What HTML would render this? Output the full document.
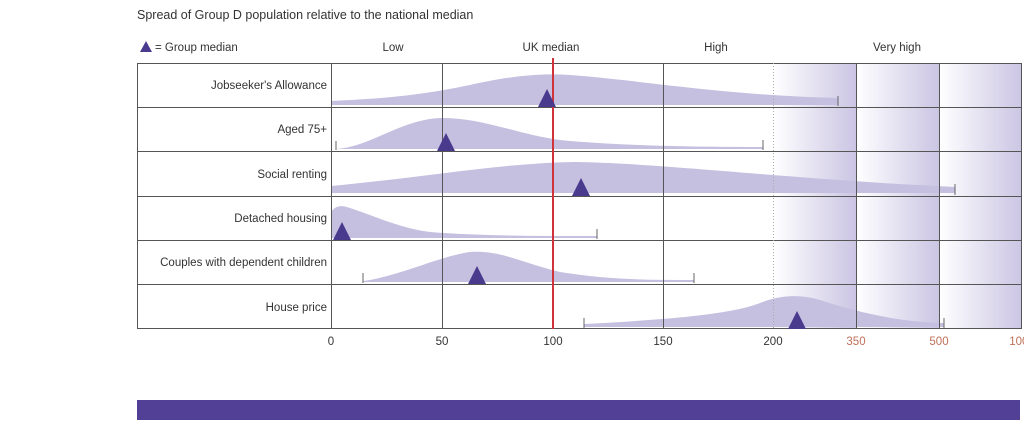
<!DOCTYPE html>
<html><head><meta charset="utf-8"><style>
body{margin:0;background:#fff;width:1024px;height:420px;overflow:hidden;font-family:"Liberation Sans",sans-serif}
</style></head><body>
<svg width="1024" height="420" xmlns="http://www.w3.org/2000/svg" font-family="Liberation Sans, sans-serif">
<defs>
<linearGradient id="g" x1="0" x2="1" y1="0" y2="0"><stop offset="0" stop-color="#fff"/><stop offset="1" stop-color="#cbc5e3"/></linearGradient>
</defs>
<text x="137" y="19" font-size="12.5" fill="#333">Spread of Group D population relative to the national median</text>
<polygon points="140,52 146,41 152,52" fill="#4a3a8e"/>
<text x="155" y="51" font-size="11.5" fill="#333">= Group median</text>
<g font-size="11.5" fill="#333" text-anchor="middle">
<text x="393" y="51">Low</text><text x="551" y="51">UK median</text><text x="716" y="51">High</text><text x="897" y="51">Very high</text>
</g>
<rect x="773" y="63" width="83" height="266" fill="url(#g)"/>
<rect x="856" y="63" width="83" height="266" fill="url(#g)"/>
<rect x="939" y="63" width="83" height="266" fill="url(#g)"/>
<g fill="#c5bfe0" stroke="none">
<path d="M331,105 L331,101 C400,98 430,93 470,85 C510,76 540,73 570,75 C640,80 720,95 838,98 L838,105 Z"/>
<path d="M336,149 C370,147 400,120 440,118 C480,117 520,135 560,140 C620,146 700,147 763,147 L763,149 Z"/>
<path d="M331,193 L331,186 C420,178 500,163 575,162 C660,163 800,180 955,187 L955,193 Z"/>
<path d="M331,238 L331,212 C336,205 342,205 350,208 C380,218 400,228 430,232 C480,236 540,236 597,236 L597,238 Z"/>
<path d="M363,282 L363,281 C400,276 440,256 470,252 C500,250 520,262 560,272 C610,280 650,280 694,280 L694,282 Z"/>
<path d="M584,327 L584,324 C660,320 730,315 760,303 C780,295 800,294 820,300 C860,313 900,322 944,323 L944,327 Z"/>
</g>
<g stroke="#666" stroke-width="1">
<line x1="838" y1="96" x2="838" y2="106"/><line x1="336" y1="141" x2="336" y2="150"/><line x1="763" y1="140" x2="763" y2="150"/>
<line x1="955" y1="184" x2="955" y2="195"/><line x1="597" y1="229" x2="597" y2="239"/><line x1="363" y1="273" x2="363" y2="283"/>
<line x1="694" y1="273" x2="694" y2="283"/><line x1="584" y1="318" x2="584" y2="328"/><line x1="944" y1="318" x2="944" y2="328"/>
</g>
<g stroke="#555" stroke-width="1" fill="none">
<rect x="137.5" y="63.5" width="884" height="265"/>
<line x1="137" y1="107.5" x2="1022" y2="107.5"/><line x1="137" y1="151.5" x2="1022" y2="151.5"/>
<line x1="137" y1="196.5" x2="1022" y2="196.5"/><line x1="137" y1="240.5" x2="1022" y2="240.5"/>
<line x1="137" y1="284.5" x2="1022" y2="284.5"/>
<line x1="331.5" y1="63" x2="331.5" y2="329"/><line x1="442.5" y1="63" x2="442.5" y2="329"/>
<line x1="663.5" y1="63" x2="663.5" y2="329"/>
<line x1="856.5" y1="63" x2="856.5" y2="329"/><line x1="939.5" y1="63" x2="939.5" y2="329"/>
<line x1="773.5" y1="63" x2="773.5" y2="329" stroke="#aaa" stroke-dasharray="1,2"/>
</g>
<line x1="553" y1="58" x2="553" y2="329" stroke="#d0343a" stroke-width="2"/>
<g fill="#4a3a8e">
<polygon points="538,107 547,89 556,107"/><polygon points="437,151 446,133 455,151"/>
<polygon points="572,196 581,178 590,196"/><polygon points="333,240 342,222 351,240"/>
<polygon points="468,284 477,266 486,284"/><polygon points="788,329 797,311 806,329"/>
</g>
<g font-size="11.5" fill="#333" text-anchor="end">
<text x="327" y="89">Jobseeker's Allowance</text><text x="327" y="133">Aged 75+</text>
<text x="327" y="178">Social renting</text><text x="327" y="222">Detached housing</text>
<text x="327" y="266">Couples with dependent children</text><text x="327" y="311">House price</text>
</g>
<g font-size="11.5" text-anchor="middle" fill="#333">
<text x="331" y="345">0</text><text x="442" y="345">50</text><text x="553" y="345">100</text>
<text x="663" y="345">150</text><text x="773" y="345">200</text>
<text x="856" y="345" fill="#c0705a">350</text><text x="939" y="345" fill="#c0705a">500</text>
<text x="1022" y="345" fill="#c0705a">1000</text>
</g>
<rect x="137" y="400" width="883" height="20" fill="#523f96"/>
</svg>
</body></html>
